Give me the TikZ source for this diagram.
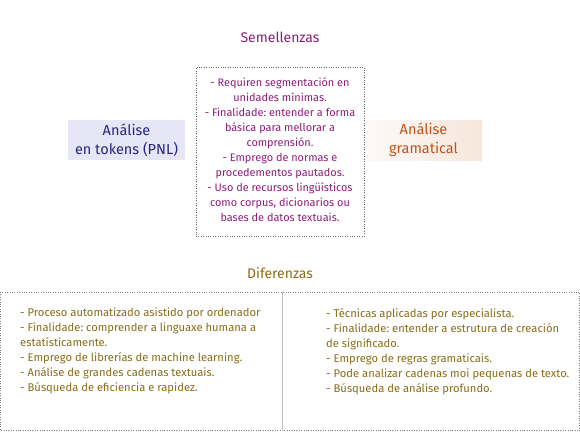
\documentclass[tikz,border=0pt]{standalone}
\usepackage{fontspec}
\setmainfont{Fira Sans}
\usetikzlibrary{positioning,shadings}
\definecolor{simcolor}{RGB}{140,28,120}
\definecolor{difcolor}{RGB}{135,108,22}
\definecolor{pnlcolor}{RGB}{38,38,128}
\definecolor{gramcolor}{RGB}{192,84,24}
\definecolor{pnlfill}{RGB}{230,230,246}
\definecolor{gramfill}{RGB}{246,230,220}
\tikzset{title/.style = {font=\fontsize{14}{15}\selectfont},
        sidebox/.style = {minimum width=117pt, minimum height=40pt, align=center,
                  inner sep=0pt, font=\fontsize{14.5}{19}\selectfont},
        listtext/.style = {align=left, inner sep=0pt, font=\fontsize{11.2}{15}\selectfont\frenchspacing}
    }

\begin{document}
\begin{tikzpicture}[x=1pt, y=-1pt]
    \tikzstyle{simbox} = [draw=black!60, dotted, minimum width=168pt, minimum height=169pt,
                          align=center, inner sep=0pt, text=simcolor, font=\fontsize{10.9}{15}\selectfont\frenchspacing]
    \useasboundingbox (0,0) rectangle (580,431);

    \node[title, text=simcolor] (sim) at (280,37) {Semellenzas};
    \node[simbox] (common) at (280,151.5) {- Requiren segmentación en\\ unidades mínimas.\\
      - Finalidade: entender a forma\\ básica para mellorar a\\ comprensión.\\
      - Emprego de normas e\\ procedementos pautados.\\
      - Uso de recursos lingüísticos\\ como corpus, dicionarios ou\\ bases de datos textuais.\rule[-3pt]{0pt}{0pt}};

    \node[sidebox, fill=pnlfill, text=pnlcolor] (pnl) at (126.5,140) {Análise\\ en tokens (PNL)};
    \node[sidebox, left color=gramfill!20, right color=gramfill, text=gramcolor] (gram) at (423.5,140) {Análise\\ gramatical};

    \node[title, text=difcolor] (dif) at (280,273) {Diferenzas};

    % caixa inferior
    \coordinate (boxtl) at (0.5,292);
    \coordinate (boxbr) at (579.5,430.5);
    \coordinate (divtop) at (282,292);
    \coordinate (divbot) at (282,430.5);
    \draw[black!50, dotted] (boxtl) rectangle (boxbr);
    \draw[black!25, line width=1pt] (divtop) -- (divbot);

    \node[listtext, text=difcolor, anchor=north west] (pnldif) at (20,308)
      {- Proceso automatizado asistido por ordenador\\
       - Finalidade: comprender a linguaxe humana a\\ estatísticamente.\\
       - Emprego de librerías de machine learning.\\
       - Análise de grandes cadenas textuais.\\
       - Búsqueda de eficiencia e rapidez.};
    \node[listtext, text=difcolor, anchor=north west] (gramdif) at (326,308)
      {- Técnicas aplicadas por especialista.\\
       - Finalidade: entender a estrutura de creación\\ de significado.\\
       - Emprego de regras gramaticais.\\
       - Pode analizar cadenas moi pequenas de texto.\\
       - Búsqueda de análise profundo.};
\end{tikzpicture}
\end{document}
